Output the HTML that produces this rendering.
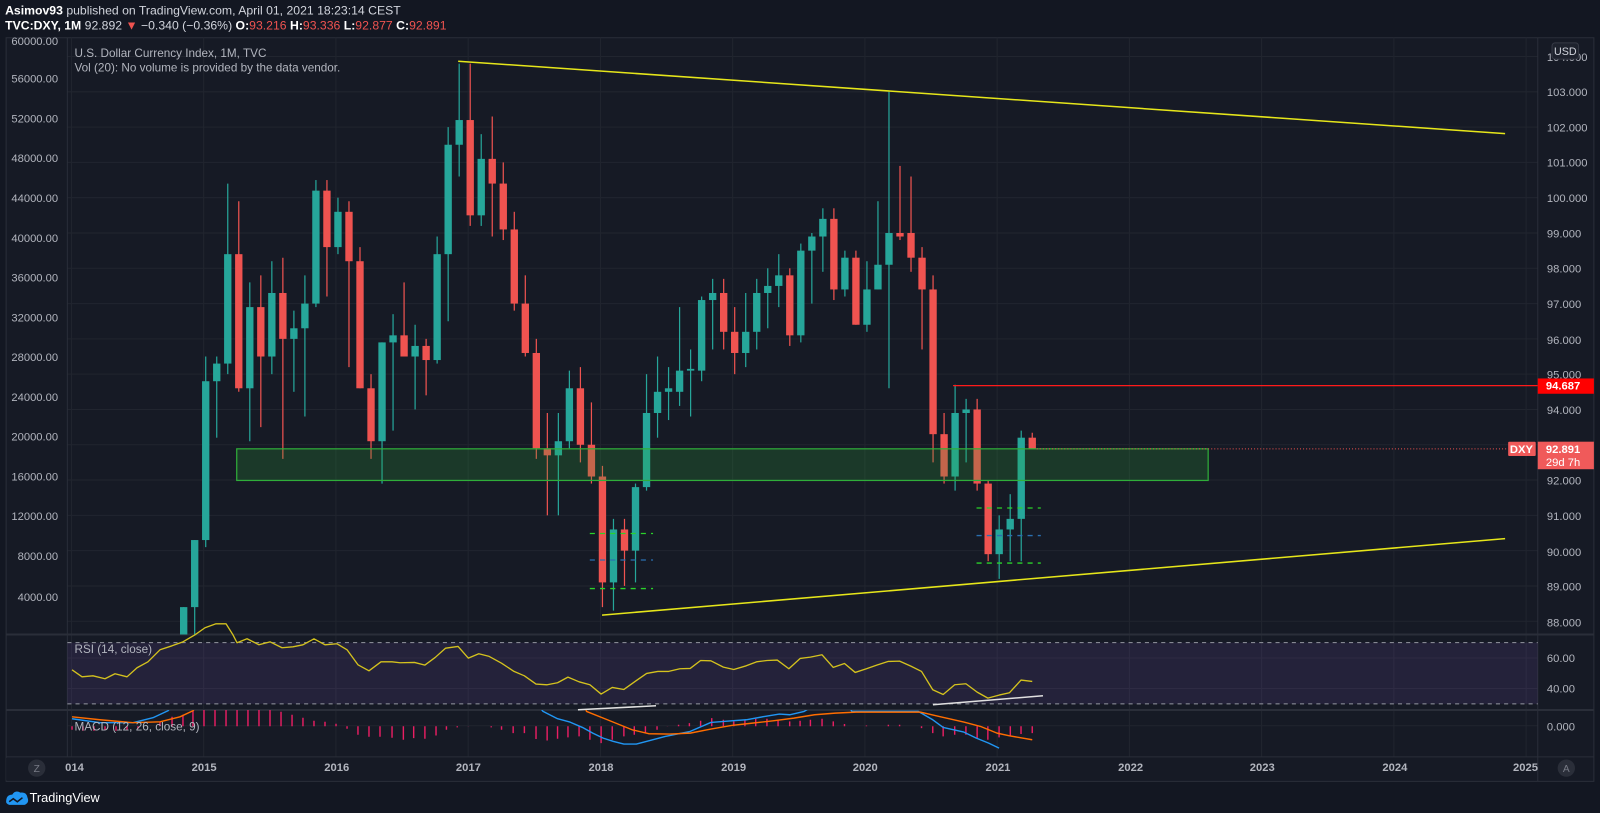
<!DOCTYPE html>
<html><head><meta charset="utf-8"><style>
html,body{margin:0;padding:0;background:#131722;width:1600px;height:813px;overflow:hidden}
svg{display:block}
text{font-family:"Liberation Sans",sans-serif}
</style></head><body>
<svg id="s" width="1600" height="813" viewBox="0 0 1568 797" preserveAspectRatio="none" xmlns="http://www.w3.org/2000/svg">
<defs>
<clipPath id="cp"><rect x="66" y="37" width="1441" height="585"/></clipPath>
<clipPath id="cm"><rect x="66" y="696" width="1441" height="46"/></clipPath>
</defs>
<rect width="1568" height="797" fill="#131722"/>
<text x="5" y="14" font-size="12" fill="#d1d4dc"><tspan font-weight="bold" fill="#fff">Asimov93</tspan> published on TradingView.com, April 01, 2021 18:23:14 CEST</text>
<text x="5" y="29" font-size="12" fill="#d1d4dc"><tspan font-weight="bold" fill="#fff">TVC:DXY, 1M</tspan> 92.892 <tspan fill="#ef5350">▼</tspan> −0.340 (−0.36%) <tspan font-weight="bold" fill="#fff">O:</tspan><tspan fill="#ef5350">93.216</tspan> <tspan font-weight="bold" fill="#fff">H:</tspan><tspan fill="#ef5350">93.336</tspan> <tspan font-weight="bold" fill="#fff">L:</tspan><tspan fill="#ef5350">92.877</tspan> <tspan font-weight="bold" fill="#fff">C:</tspan><tspan fill="#ef5350">92.891</tspan></text>
<rect x="6" y="37" width="1556" height="729" fill="#161a25" stroke="#2a2e39" stroke-width="1"/>
<g id="grid" stroke="#21252f" stroke-width="1"></g>
<line x1="6" y1="622" x2="1562" y2="622" stroke="#2a2e39" stroke-width="2"/>
<line x1="6" y1="696" x2="1562" y2="696" stroke="#2a2e39" stroke-width="2"/>
<line x1="6" y1="742" x2="1562" y2="742" stroke="#2a2e39" stroke-width="1"/>
<line x1="66" y1="37" x2="66" y2="742" stroke="#2a2e39"/>
<line x1="1507" y1="37" x2="1507" y2="766" stroke="#2a2e39"/>
<!-- RSI band -->
<rect x="66" y="630" width="1441" height="60" fill="rgba(126,87,194,0.14)"/>
<line x1="66" y1="630" x2="1507" y2="630" stroke="#9598a1" stroke-dasharray="4,4"/>
<line x1="66" y1="690" x2="1507" y2="690" stroke="#9598a1" stroke-dasharray="4,4"/>
<g id="price" clip-path="url(#cp)"></g>
<g clip-path="url(#cp)">
<line x1="449" y1="60" x2="1475" y2="131" stroke="#e6e61a" stroke-width="1.5"/>
<line x1="590" y1="603" x2="1475" y2="528" stroke="#e6e61a" stroke-width="1.5"/>
<rect x="232" y="440" width="952" height="31" fill="rgba(46,170,60,0.22)" stroke="#2fae3a" stroke-width="1.2"/>
<line x1="934" y1="378" x2="1507" y2="378" stroke="#ff1a1a" stroke-width="1.2"/>
<line x1="1016" y1="440" x2="1478" y2="440" stroke="#ef5350" stroke-dasharray="1,2"/>
<g stroke-dasharray="5,5" stroke-width="1.3">
<line x1="578" y1="523" x2="640" y2="523" stroke="#2bd12b"/>
<line x1="578" y1="549" x2="640" y2="549" stroke="#2a6fb0"/>
<line x1="578" y1="577" x2="640" y2="577" stroke="#2bd12b"/>
<line x1="957" y1="498" x2="1020" y2="498" stroke="#2bd12b"/>
<line x1="957" y1="525" x2="1020" y2="525" stroke="#2a6fb0"/>
<line x1="957" y1="552" x2="1020" y2="552" stroke="#2bd12b"/>
</g>
</g>
<g id="rsi"></g>
<g id="macd" clip-path="url(#cm)"></g>
<!-- axis labels -->
<g font-size="11" fill="#b2b5be" text-anchor="end">
<text x="57" y="44">60000.00</text><text x="57" y="81">56000.00</text><text x="57" y="120">52000.00</text><text x="57" y="159">48000.00</text><text x="57" y="198">44000.00</text><text x="57" y="237">40000.00</text><text x="57" y="276">36000.00</text><text x="57" y="315">32000.00</text><text x="57" y="354">28000.00</text><text x="57" y="393">24000.00</text><text x="57" y="432">20000.00</text><text x="57" y="471">16000.00</text><text x="57" y="510">12000.00</text><text x="57" y="549">8000.00</text><text x="57" y="589">4000.00</text>
</g>
<g font-size="11" fill="#b2b5be" text-anchor="start">
<text x="1516" y="60">104.000</text><text x="1516" y="94">103.000</text><text x="1516" y="129">102.000</text><text x="1516" y="163">101.000</text><text x="1516" y="198">100.000</text><text x="1516" y="233">99.000</text><text x="1516" y="267">98.000</text><text x="1516" y="302">97.000</text><text x="1516" y="337">96.000</text><text x="1516" y="371">95.000</text><text x="1516" y="406">94.000</text><text x="1516" y="475">92.000</text><text x="1516" y="510">91.000</text><text x="1516" y="545">90.000</text><text x="1516" y="579">89.000</text><text x="1516" y="614">88.000</text>
<text x="1516" y="649">60.00</text><text x="1516" y="679">40.00</text><text x="1516" y="716">0.000</text>
</g>
<rect x="1521" y="42" width="26" height="16" rx="3" fill="#1e222d" stroke="#363a45"/>
<text x="1534" y="54" font-size="10.5" fill="#d1d4dc" text-anchor="middle">USD</text>
<rect x="1507" y="371" width="55" height="15" fill="#ff0000"/>
<text x="1515" y="382" font-size="11" fill="#fff" font-weight="bold">94.687</text>
<rect x="1478" y="433" width="27" height="14" rx="1" fill="#f05a5a"/>
<text x="1491" y="444" font-size="11" fill="#fff" font-weight="bold" text-anchor="middle">DXY</text>
<rect x="1507" y="433" width="55" height="27" fill="#f05a5a"/>
<text x="1515" y="444" font-size="11" fill="#fff" font-weight="bold">92.891</text>
<text x="1515" y="457" font-size="11" fill="#fff">29d 7h</text>
<text x="73" y="56" font-size="11.5" fill="#b2b5be">U.S. Dollar Currency Index, 1M, TVC</text>
<text x="73" y="70" font-size="11.5" fill="#b2b5be">Vol (20): No volume is provided by the data vendor.</text>
<text x="73" y="640" font-size="11.5" fill="#b2b5be">RSI (14, close)</text>
<text x="73" y="716" font-size="11.5" fill="#b2b5be">MACD (12, 26, close, 9)</text>
<g font-size="11" font-weight="bold" fill="#b2b5be" text-anchor="middle">
<text x="70" y="756">2014</text><text x="200" y="756">2015</text><text x="330" y="756">2016</text><text x="459" y="756">2017</text><text x="589" y="756">2018</text><text x="719" y="756">2019</text><text x="848" y="756">2020</text><text x="978" y="756">2021</text><text x="1108" y="756">2022</text><text x="1237" y="756">2023</text><text x="1367" y="756">2024</text><text x="1495" y="756">2025</text>
</g>
<rect x="6" y="743" width="58" height="22" fill="#161a25"/>
<circle cx="36" cy="753" r="8.5" fill="#2a2e39"/><text x="36" y="757" font-size="10" fill="#787b86" text-anchor="middle">Z</text>
<circle cx="1535" cy="753" r="8.5" fill="#2a2e39"/><text x="1535" y="757" font-size="10" fill="#787b86" text-anchor="middle">A</text>
<path d="M6 786 q0-7 6-7 q3-5 8-2 q6-1 7 5 q2 5-3 7 h-15 q-3-1-3-3z" fill="#2196f3"/>
<path d="M9 786 l4-3 l4 3 l5-4" stroke="#131722" stroke-width="1.5" fill="none"/>
<text x="29" y="786" font-size="12.5" fill="#fff">TradingView</text>
</svg>
<script>
var NS="http://www.w3.org/2000/svg";
function el(t,a,p){var e=document.createElementNS(NS,t);for(var k in a)e.setAttribute(k,a[k]);p.appendChild(e);return e;}
var grid=document.getElementById('grid');
for(var p=88;p<=104;p++){var y=90+(103-p)*34.6;el('line',{x1:66,y1:y,x2:1507,y2:y},grid);}
for(var yr=0;yr<=11;yr++){var x=70+yr*129.6;el('line',{x1:x,y1:37,x2:x,y2:742},grid);}
[645,675].forEach(function(y){el('line',{x1:66,y1:y,x2:1507,y2:y},grid);});
el('line',{x1:66,y1:711.5,x2:1507,y2:711.5},grid);
var D=[[87.0,88.4,86.6,88.4],[88.4,90.3,87.6,90.3],[90.3,95.5,90.1,94.8],[94.8,95.5,93.2,95.3],[95.3,100.4,95.0,98.4],[98.4,99.9,94.5,94.6],[94.6,97.6,93.1,96.9],[96.9,97.8,93.5,95.5],[95.5,98.2,95.0,97.3],[97.3,98.3,92.6,96.0],[96.0,96.8,94.5,96.3],[96.3,97.8,93.8,97.0],[97.0,100.5,96.9,100.2],[100.2,100.5,97.2,98.6],
[98.6,100.0,98.4,99.6],[99.6,99.9,95.2,98.2],[98.2,98.6,94.6,94.6],[94.6,95.0,92.6,93.1],[93.1,95.9,91.9,95.9],[95.9,96.7,93.4,96.1],[96.1,97.6,95.5,95.5],[95.5,96.4,94.0,95.8],[95.8,96.0,94.4,95.4],[95.4,98.9,95.3,98.4],[98.4,102.0,96.5,101.5],[101.5,103.8,100.6,102.2],
[102.2,103.8,99.2,99.5],[99.5,101.8,99.2,101.1],[101.1,102.3,98.9,100.4],[100.4,101.0,98.8,99.1],[99.1,99.6,96.8,97.0],[97.0,97.8,95.5,95.6],[95.6,96.0,92.6,92.9],[92.9,93.9,91.0,92.7],[92.7,93.9,91.0,93.1],[93.1,95.1,92.9,94.6],[94.6,95.2,92.5,93.0],[93.0,94.2,91.9,92.1],
[92.1,92.4,88.4,89.1],[89.1,90.9,88.3,90.6],[90.6,90.9,89.0,90.0],[90.0,91.9,89.1,91.8],[91.8,95.0,91.7,93.9],[93.9,95.5,93.2,94.5],[94.5,95.2,93.7,94.6],[94.5,96.9,94.1,95.1],[95.1,95.7,93.8,95.15],[95.1,97.2,94.8,97.1],[97.1,97.7,95.7,97.3],[97.3,97.7,95.7,96.2],
[96.2,96.9,95.0,95.6],[95.6,97.3,95.2,96.2],[96.2,97.7,95.7,97.3],[97.3,98.0,96.3,97.5],[97.5,98.4,96.9,97.8],[97.8,98.0,95.8,96.1],[96.1,98.7,95.9,98.5],[98.5,99.0,97.0,98.9],[98.9,99.7,97.9,99.4],[99.4,99.7,97.1,97.4],[97.4,98.5,97.2,98.3],[98.3,98.5,96.4,96.4],
[96.4,98.2,96.2,97.4],[97.4,99.9,97.4,98.1],[98.1,103.0,94.6,99.0],[99.0,100.9,98.8,98.9],[99.0,100.6,97.9,98.3],[98.3,98.6,95.7,97.4],[97.4,97.8,92.5,93.3],[93.3,93.9,91.9,92.1],[92.1,94.7,91.7,93.9],[93.9,94.3,92.5,94.0],[94.0,94.3,91.7,91.9],[91.9,92.0,89.7,89.9],
[89.9,91.0,89.2,90.6],[90.6,91.6,89.7,90.9],[90.9,93.4,89.7,93.2],[93.2,93.34,92.88,92.89]];
function Y(p){return 90+(103-p)*34.6;}
var pg=document.getElementById('price');
D.forEach(function(d,i){var x=180+i*10.8,up=d[3]>=d[0],c=up?'#26a69a':'#ef5350';
el('line',{x1:x,y1:Y(d[1]),x2:x,y2:Y(d[2]),stroke:c,'stroke-width':1.2},pg);
var t=Y(Math.max(d[0],d[3])),b=Y(Math.min(d[0],d[3]));
el('rect',{x:x-3.6,y:t,width:7.2,height:Math.max(1,b-t),fill:c},pg);});
// RSI (actual coords -> scaled)
var rsiA=[[72,670],[82,677],[93,676],[105,679],[115,674],[127,677],[137,668],[148,662],[160,650],[172,646],[183,642],[195,635],[205,628],[216,624],[226,624],[233,635],[237,643],[247,639],[259,645],[270,642],[282,648],[293,647],[303,645],[314,639],[325,645],[337,644],[347,650],[358,665],[369,671],[381,662],[392,662],[400,663]];
var rz=[[35,143],[60,151],[85,128],[110,100],[140,95],[165,130],[190,117],[215,125],[245,145],[275,170],[300,183],[328,208],[355,210],[380,204],[405,187],[432,201],[458,210],[485,238],[512,218],[540,224],[567,200],[595,176],[622,170],[648,170],[675,162],[700,161],[725,137],[750,138],[780,157],[805,164],[835,153],[860,141],[885,137],[910,136],[938,162],[965,131],[990,127],[1018,120],[1045,158],[1072,146],[1098,173],[1125,162],[1150,151],[1178,140],[1205,139],[1232,154],[1258,170],[1285,225],[1310,239],[1338,210],[1365,207],[1392,232],[1418,250],[1445,241],[1470,234],[1498,196],[1525,200]];
function zc(p){return [400+p[0]/2.412,615+p[1]/3];}
var pts=rsiA.concat(rz.map(zc));
var S=0.98;
function pl(arr,c,g,w){el('polyline',{points:arr.map(function(p){return (p[0]*S).toFixed(1)+','+(p[1]*S).toFixed(1)}).join(' '),fill:'none',stroke:c,'stroke-width':w||1.3,'stroke-linejoin':'round'},g);}
var rg=document.getElementById('rsi');
pl(pts,'#d4c21e',rg);
pl([[578,710],[656,706]],'#e0e0e0',rg,1.5);
pl([[933,705],[1043,696]],'#e0e0e0',rg,1.5);
// MACD
var mg=document.getElementById('macd');
var bars=[[72,730],[83,731],[94,731],[105,730],[116,731],[127,730],[138,729],[160,722],[172,717],[183,715],[193,711],[204,700],[215,700],[226,700],[237,700],[248,700],[259,700],[270,706],[281,712],[292,715],[303,718],[314,721],[325,722],[336,724],[347,729],[358,735],[369,737],[380,737],[392,738]];
var bz=[[8,375],[33,370],[60,372],[87,362],[112,345],[138,338],[165,335],[220,338],[245,345],[273,355],[300,355],[328,373],[355,377],[380,372],[405,368],[432,365],[458,375],[485,385],[512,375],[540,365],[565,360],[592,355],[620,345],[645,335],[672,330],[698,325],[725,318],[752,310],[780,315],[805,320],[832,315],[858,312],[885,312],[912,315],[940,320],[965,318],[990,315],[1018,312],[1045,320],[1072,328],[1125,332],[1178,330],[1205,330],[1258,340],[1285,355],[1310,365],[1338,360],[1365,360],[1392,370],[1418,375],[1445,368],[1472,362],[1498,358],[1525,355]];
bars.concat(bz.map(zc)).forEach(function(b){el('line',{x1:(b[0]*S).toFixed(1),y1:(726.5*S).toFixed(1),x2:(b[0]*S).toFixed(1),y2:(b[1]*S).toFixed(1),stroke:'#e91e63','stroke-width':1.4},mg);});
var blue=[[72,719],[100,723],[133,723],[153,718],[168,711],[180,695],[530,695]].concat([[345,290],[380,312],[410,322],[440,338],[465,355],[490,370],[515,380],[540,388],[570,388],[600,378],[640,365],[700,350],[750,323],[800,318],[835,315],[880,305],[915,298],[940,300],[975,290],[1000,270],[1080,270],[1090,290],[1250,290],[1285,315],[1310,338],[1360,352],[1390,370],[1420,385],[1445,400]].map(zc));
var orange=[[72,717],[100,720],[133,723],[160,722],[180,717],[193,711],[205,695],[580,695]].concat([[450,290],[500,315],[560,345],[600,357],[650,358],[700,355],[750,343],[800,332],[850,325],[900,318],[950,310],[1000,300],[1050,295],[1100,292],[1150,292],[1200,292],[1255,292],[1300,305],[1360,322],[1400,335],[1440,355],[1470,363],[1525,375]].map(zc));
pl(blue,'#2196f3',mg,1.4);
pl(orange,'#ff6d00',mg,1.4);
</script>
</body></html>
